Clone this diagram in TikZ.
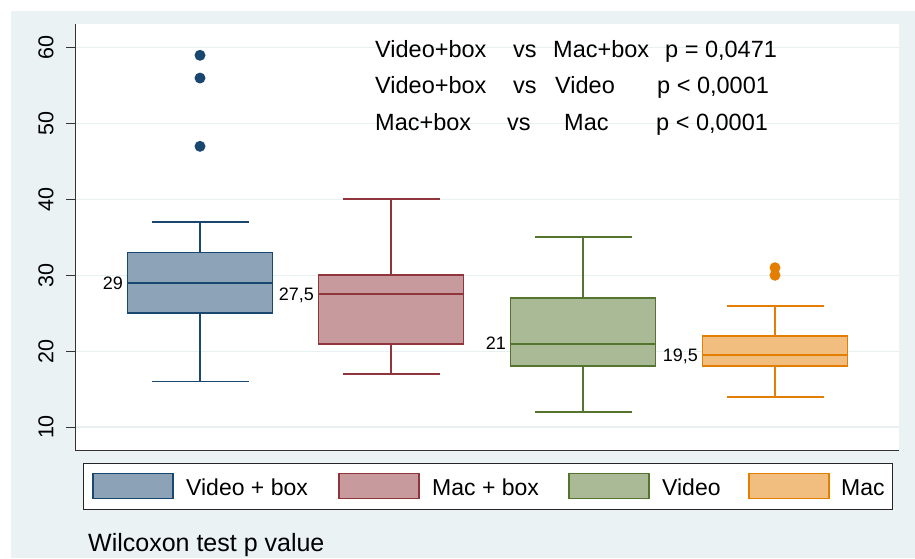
\documentclass[tikz,border=0pt]{standalone}
\usepackage{fontspec}
\setmainfont{Liberation Sans}
\usetikzlibrary{positioning}
\definecolor{stnavy}{RGB}{26,71,111}
\definecolor{stmaroon}{RGB}{144,53,59}
\definecolor{stgreen}{RGB}{85,117,47}
\definecolor{storange}{RGB}{227,126,0}
\definecolor{stback}{RGB}{234,242,243}
\definecolor{stgrid}{RGB}{232,240,242}
\tikzset{
	BP-Line/.style={line width=1.9pt},
	BP-Label/.style={font=\fontsize{18}{20}\selectfont,text depth=0pt,inner sep=0pt},
	BP-Tick/.style={font=\fontsize{21.5}{24}\selectfont,rotate=90,inner sep=0pt},
	BP-Text/.style={font=\fontsize{23.5}{26}\selectfont,anchor=base west,inner sep=0pt},
	BP-Swatch/.style={line width=1.6pt,minimum width=80pt,minimum height=25pt,inner sep=0pt},
	BP-Dot/.style={circle,inner sep=0pt,minimum size=11pt}
}

\begin{document}
\begin{tikzpicture}[x=1pt,y=-1pt]
	\useasboundingbox (0,0) rectangle (915,558);
	% graph region and plot region
	\fill[white] (0,0) rectangle (915,558);
	\fill[stback] (11,11) rectangle (915,558);
	\fill[white] (75,24) rectangle (899,450);
	% data units: 10 on the axis is 75.86pt
	\begin{scope}[shift={(0,502.86)},y=7.586pt]
		\foreach \v in {10,20,...,60} {
			\draw[stgrid,line width=1.3pt] (75,\v) -- (899,\v);
			\draw[line width=1pt,black!80] (66,\v) -- (75,\v);
			\node[BP-Tick] (tick-\v) at (46,\v) {\v};
		}
		% boxes: centre / whisker low / q1 / median / q3 / whisker high
		\foreach \c/\lo/\qa/\md/\qb/\hi/\col/\lab/\nm in {
			200/16/25/29/33/37/stnavy/29/vb,
			391/17/21/27.5/30/40/stmaroon/{27,5}/mb,
			583/12/18/21/27/35/stgreen/21/vd,
			775/14/18/19.5/22/26/storange/{19,5}/mc} {
			\fill[\col!50!white] (\c-72.5,\qa) rectangle (\c+72.5,\qb);
			\draw[BP-Line,\col] (\c-72.5,\qa) rectangle (\c+72.5,\qb);
			\draw[BP-Line,\col] (\c-72.5,\md) -- (\c+72.5,\md);
			\draw[BP-Line,\col] (\c,\qb) -- (\c,\hi) (\c-48.5,\hi) -- (\c+48.5,\hi);
			\draw[BP-Line,\col] (\c,\qa) -- (\c,\lo) (\c-48.5,\lo) -- (\c+48.5,\lo);
			\node[BP-Label,anchor=east] (med-\nm) at (\c-77,\md) {\lab};
		}
		% outside values
		\foreach \c/\v/\col in {200/47/stnavy,200/56/stnavy,200/59/stnavy,775/30/storange,775/31/storange}
			\node[BP-Dot,fill=\col] (out-\c-\v) at (\c,\v) {};
	\end{scope}
	% axes
	\draw[line width=1pt,black!80] (75,24) -- (75,450) -- (899,450);
	% test results
	\node[BP-Text] (r1a) at (375,57) {Video+box};
	\node[BP-Text] (r1b) at (513,57) {vs};
	\node[BP-Text] (r1c) at (553,57) {Mac+box};
	\node[BP-Text] (r1d) at (665,57) {p = 0,0471};
	\node[BP-Text] (r2a) at (375,93) {Video+box};
	\node[BP-Text] (r2b) at (513,93) {vs};
	\node[BP-Text] (r2c) at (555,93) {Video};
	\node[BP-Text] (r2d) at (657,93) {p < 0,0001};
	\node[BP-Text] (r3a) at (375,130) {Mac+box};
	\node[BP-Text] (r3b) at (507,130) {vs};
	\node[BP-Text] (r3c) at (564,130) {Mac};
	\node[BP-Text] (r3d) at (656,130) {p < 0,0001};
	% legend
	\node[draw=black!85,fill=white,line width=1pt,minimum width=809pt,minimum height=46pt,inner sep=0pt] (legend) at (487.5,486) {};
	\foreach \x/\tx/\col/\lab/\nm in {133/186/stnavy/Video + box/vb,379/432/stmaroon/Mac + box/mb,609/662/stgreen/Video/vd,789/841/storange/Mac/mc} {
		\node[BP-Swatch,draw=\col,fill=\col!50!white] (key-\nm) at (\x,486) {};
		\node[BP-Text,font=\fontsize{23}{26}\selectfont] (keytext-\nm) at (\tx,495) {\lab};
	}
	% axis title
	\node[BP-Text,font=\fontsize{25}{28}\selectfont] (title) at (88,551) {Wilcoxon test p value};
\end{tikzpicture}
\end{document}
